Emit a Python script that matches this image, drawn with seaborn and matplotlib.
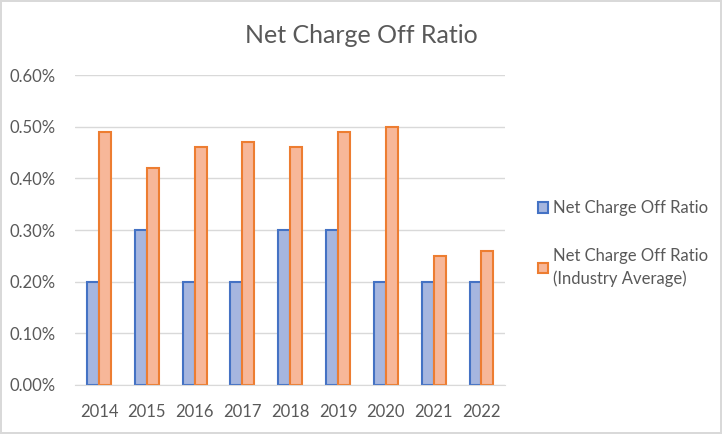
import pandas as pd
import matplotlib.pyplot as plt
import seaborn as sns
from matplotlib.ticker import PercentFormatter, FixedLocator

# 데이터
years = ['2014', '2015', '2016', '2017', '2018', '2019', '2020', '2021', '2022']
ratio = [0.20, 0.30, 0.20, 0.20, 0.30, 0.30, 0.20, 0.20, 0.20]
industry_avg = [0.49, 0.42, 0.46, 0.47, 0.46, 0.49, 0.50, 0.25, 0.26]
series_names = ['Net Charge Off Ratio', 'Net Charge Off Ratio\n(Industry Average)']

df = pd.DataFrame({
    'year': years * 2,
    'value': ratio + industry_avg,
    'series': [series_names[0]] * len(years) + [series_names[1]] * len(years),
})

sns.set_style('white')
plt.rcParams['font.family'] = ['Lato', 'DejaVu Sans']

text_gray = '#595959'
fig = plt.figure(figsize=(7.22, 4.34), dpi=100)
fig.patch.set_edgecolor('#d9d9d9')
fig.patch.set_linewidth(1.5)
ax = fig.add_axes([0.104, 0.113, 0.596, 0.714])

ax = sns.barplot(data=df, x='year', y='value', hue='series', ax=ax,
                 palette=['#a6b6df', '#f7b799'], width=0.5, saturation=1)

# 테두리 색
edge_colors = ['#4472c4', '#ed7d31']
for container, ec in zip(ax.containers, edge_colors):
    for bar in container:
        bar.set_edgecolor(ec)
        bar.set_linewidth(1.5)

ax.set_ylim(0, 0.6)
ax.set_yticks([0, 0.1, 0.2, 0.3, 0.4, 0.5, 0.6])
ax.yaxis.set_major_formatter(PercentFormatter(decimals=2))
ax.set_xlim(-0.5, len(years) - 0.5)
ax.grid(axis='y', color='#d9d9d9', linewidth=1)
ax.set_axisbelow(True)
ax.set_xlabel('')
ax.set_ylabel('')
for side in ['left', 'right', 'top']:
    ax.spines[side].set_visible(False)
ax.spines['bottom'].set_color('#d9d9d9')
ax.tick_params(axis='both', colors=text_gray, labelsize=12, length=0)
ax.tick_params(axis='y', pad=14)
ax.tick_params(axis='x', pad=14)
ax.xaxis.set_minor_locator(FixedLocator([i - 0.5 for i in range(len(years) + 1)]))
ax.tick_params(axis='x', which='minor', length=5, color='#d9d9d9')

fig.text(0.5, 0.918, 'Net Charge Off Ratio', fontsize=18, color=text_gray,
         ha='center', va='center')

handles, labels = ax.get_legend_handles_labels()
for h, ec in zip(handles, edge_colors):
    h.set_edgecolor(ec)
    h.set_linewidth(1.5)
leg = ax.legend(handles, labels, loc='upper left', bbox_to_anchor=(1.04, 0.645),
                frameon=False, fontsize=12, labelspacing=1.9, handlelength=0.6,
                handleheight=0.6, handletextpad=0.35)
for t in leg.get_texts():
    t.set_color(text_gray)
    t.set_linespacing(1.5)

plt.savefig('out.png', dpi=100)
plt.close()
